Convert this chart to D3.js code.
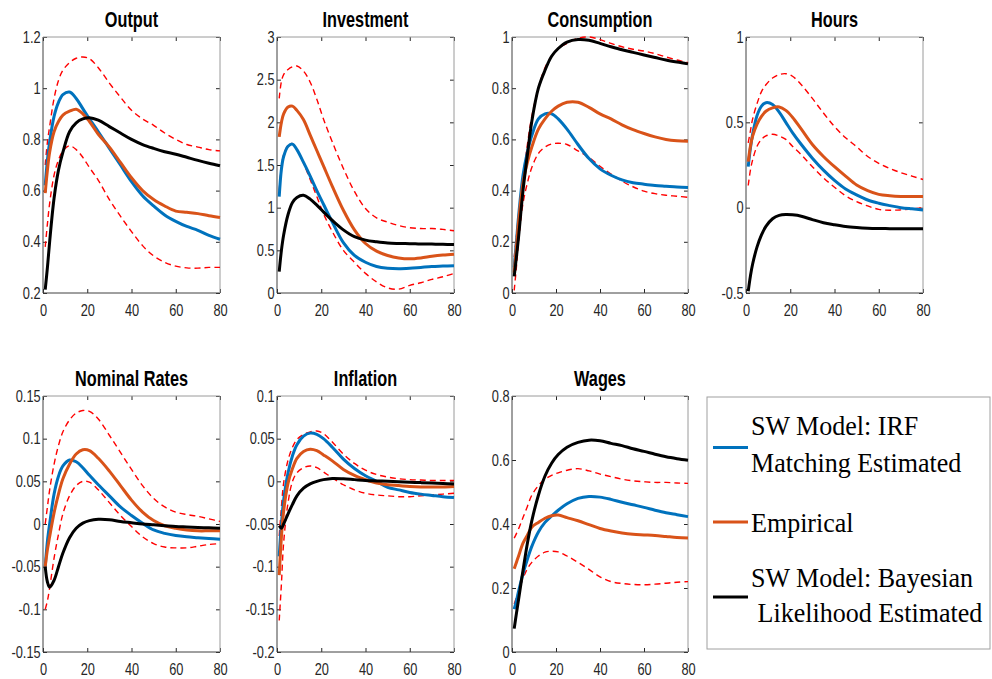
<!DOCTYPE html>
<html>
<head>
<meta charset="utf-8">
<script src="https://cdn.jsdelivr.net/npm/d3@7/dist/d3.min.js"></script>
<style>
  body { margin: 0; background: #fff; }
  .tick text { font-family: "Liberation Sans", Arial, sans-serif; font-size: 16px; fill: #262626; }
  .tick line { stroke: #262626; }
  .title { font-family: "Liberation Sans", Arial, sans-serif; font-size: 22px; font-weight: bold; fill: #000; }
  .legend-text { font-family: "Liberation Serif", "Times New Roman", serif; font-size: 28px; fill: #000; }
</style>
</head>
<body>
<div id="chart-container"></div>
<script>
var horizon = [1, 2, 3, 5, 7, 9, 12, 15, 18, 21, 25, 30, 35, 40, 45, 50, 55, 60, 65, 70, 75, 80];

var titles = ["Output", "Investment", "Consumption", "Hours", "Nominal Rates", "Inflation", "Wages"];

var yTicks = [
  [0.2, 0.4, 0.6, 0.8, 1, 1.2],
  [0, 0.5, 1, 1.5, 2, 2.5, 3],
  [0, 0.2, 0.4, 0.6, 0.8, 1],
  [-0.5, 0, 0.5, 1],
  [-0.15, -0.1, -0.05, 0, 0.05, 0.1, 0.15],
  [-0.2, -0.15, -0.1, -0.05, 0, 0.05, 0.1],
  [0, 0.2, 0.4, 0.6, 0.8]
];
var xTicks = [0, 20, 40, 60, 80];

var legendLabels = [
  ["SW Model: IRF", "Matching Estimated"],
  ["Empirical"],
  ["SW Model: Bayesian", " Likelihood Estimated"]
];

// SW model, IRF matching (blue)
var irfMatching = [
  [0.62, 0.72, 0.79, 0.89, 0.945, 0.975, 0.985, 0.96, 0.92, 0.88, 0.83, 0.765, 0.70, 0.635, 0.58, 0.54, 0.505, 0.48, 0.46, 0.445, 0.425, 0.41],
  [1.13, 1.45, 1.6, 1.72, 1.745, 1.68, 1.53, 1.37, 1.2, 1.04, 0.83, 0.59, 0.44, 0.36, 0.31, 0.29, 0.285, 0.29, 0.30, 0.31, 0.315, 0.32],
  [0.10, 0.2, 0.3, 0.46, 0.55, 0.615, 0.68, 0.70, 0.70, 0.68, 0.64, 0.58, 0.525, 0.485, 0.46, 0.442, 0.431, 0.425, 0.42, 0.417, 0.414, 0.412],
  [0.24, 0.35, 0.43, 0.54, 0.595, 0.615, 0.605, 0.56, 0.50, 0.44, 0.37, 0.29, 0.22, 0.16, 0.11, 0.075, 0.045, 0.026, 0.012, 0.0, -0.007, -0.013],
  [-0.05, -0.02, 0.0, 0.035, 0.056, 0.068, 0.075, 0.073, 0.066, 0.057, 0.046, 0.033, 0.02, 0.01, 0.001, -0.007, -0.011, -0.0135, -0.015, -0.016, -0.017, -0.018],
  [-0.088, -0.05, -0.022, 0.01, 0.03, 0.043, 0.053, 0.0565, 0.055, 0.05, 0.04, 0.026, 0.015, 0.0065, 0.0, -0.007, -0.01, -0.013, -0.015, -0.0165, -0.018, -0.019],
  [0.134, 0.16, 0.19, 0.245, 0.29, 0.33, 0.375, 0.405, 0.425, 0.443, 0.463, 0.48, 0.486, 0.484, 0.477, 0.468, 0.46, 0.452, 0.443, 0.435, 0.429, 0.423]
];

// empirical (orange)
var empirical = [
  [0.59, 0.68, 0.75, 0.83, 0.87, 0.895, 0.91, 0.918, 0.90, 0.87, 0.82, 0.77, 0.71, 0.65, 0.60, 0.565, 0.54, 0.52, 0.515, 0.51, 0.502, 0.495],
  [1.83, 2.0, 2.1, 2.18, 2.19, 2.14, 2.03, 1.85, 1.67, 1.49, 1.25, 0.97, 0.74, 0.58, 0.49, 0.44, 0.41, 0.40, 0.41, 0.43, 0.445, 0.455],
  [0.08, 0.18, 0.28, 0.43, 0.51, 0.57, 0.64, 0.68, 0.71, 0.73, 0.745, 0.745, 0.725, 0.70, 0.68, 0.657, 0.638, 0.623, 0.61, 0.60, 0.595, 0.593],
  [0.27, 0.36, 0.42, 0.49, 0.535, 0.565, 0.585, 0.59, 0.57, 0.53, 0.46, 0.37, 0.30, 0.24, 0.185, 0.133, 0.10, 0.078, 0.07, 0.066, 0.065, 0.065],
  [-0.05, -0.03, -0.015, 0.013, 0.035, 0.053, 0.07, 0.082, 0.087, 0.086, 0.077, 0.062, 0.045, 0.028, 0.014, 0.004, -0.002, -0.005, -0.007, -0.008, -0.008, -0.008],
  [-0.11, -0.065, -0.035, -0.002, 0.015, 0.027, 0.035, 0.0377, 0.036, 0.031, 0.024, 0.014, 0.007, 0.002, -0.002, -0.004, -0.005, -0.006, -0.0065, -0.0065, -0.0065, -0.006],
  [0.26, 0.28, 0.30, 0.34, 0.365, 0.39, 0.405, 0.418, 0.426, 0.428, 0.42, 0.41, 0.398, 0.386, 0.378, 0.372, 0.368, 0.366, 0.364, 0.361, 0.358, 0.356]
];

// SW model, Bayesian likelihood (black)
var bayesian = [
  [0.213, 0.30, 0.40, 0.57, 0.68, 0.75, 0.83, 0.865, 0.88, 0.885, 0.875, 0.85, 0.825, 0.80, 0.78, 0.765, 0.752, 0.742, 0.73, 0.718, 0.707, 0.697],
  [0.25, 0.5, 0.68, 0.92, 1.06, 1.12, 1.145, 1.1, 1.03, 0.95, 0.85, 0.74, 0.66, 0.62, 0.60, 0.585, 0.58, 0.578, 0.575, 0.573, 0.57, 0.567],
  [0.065, 0.14, 0.22, 0.40, 0.54, 0.67, 0.80, 0.87, 0.925, 0.955, 0.98, 0.99, 0.987, 0.975, 0.962, 0.95, 0.94, 0.93, 0.92, 0.91, 0.902, 0.895],
  [-0.49, -0.40, -0.33, -0.23, -0.16, -0.11, -0.065, -0.045, -0.04, -0.042, -0.05, -0.07, -0.088, -0.10, -0.11, -0.116, -0.12, -0.122, -0.123, -0.123, -0.123, -0.123],
  [-0.05, -0.068, -0.074, -0.066, -0.05, -0.034, -0.016, -0.005, 0.001, 0.004, 0.0055, 0.005, 0.003, 0.0015, 0.0, -0.001, -0.002, -0.003, -0.0035, -0.004, -0.0045, -0.005],
  [-0.052, -0.055, -0.05, -0.038, -0.027, -0.017, -0.008, -0.003, 0.0, 0.002, 0.0034, 0.003, 0.002, 0.001, 0.0005, 0.0, -0.0005, -0.001, -0.0015, -0.002, -0.0025, -0.003],
  [0.073, 0.12, 0.165, 0.255, 0.34, 0.41, 0.49, 0.55, 0.59, 0.617, 0.64, 0.655, 0.662, 0.66, 0.652, 0.645, 0.635, 0.627, 0.618, 0.61, 0.604, 0.599]
];

// empirical confidence bands (red dashed)
var bandUpper = [
  [0.70, 0.79, 0.85, 0.96, 1.03, 1.07, 1.10, 1.117, 1.122, 1.115, 1.08, 1.02, 0.965, 0.914, 0.88, 0.855, 0.825, 0.80, 0.78, 0.77, 0.76, 0.755],
  [2.28, 2.48, 2.56, 2.62, 2.65, 2.66, 2.6, 2.47, 2.27, 2.04, 1.77, 1.46, 1.19, 0.99, 0.88, 0.83, 0.79, 0.765, 0.755, 0.755, 0.745, 0.73],
  [0.14, 0.22, 0.3, 0.45, 0.58, 0.69, 0.80, 0.88, 0.925, 0.955, 0.975, 0.995, 1.0, 0.99, 0.975, 0.962, 0.952, 0.945, 0.935, 0.922, 0.91, 0.90],
  [0.38, 0.45, 0.52, 0.61, 0.68, 0.72, 0.76, 0.78, 0.785, 0.77, 0.72, 0.64, 0.555, 0.475, 0.41, 0.357, 0.30, 0.26, 0.23, 0.205, 0.185, 0.165],
  [0.0, 0.02, 0.04, 0.07, 0.092, 0.108, 0.122, 0.13, 0.133, 0.132, 0.123, 0.104, 0.084, 0.064, 0.045, 0.03, 0.02, 0.014, 0.011, 0.009, 0.006, 0.003],
  [-0.064, -0.03, -0.002, 0.025, 0.04, 0.049, 0.055, 0.058, 0.059, 0.056, 0.046, 0.032, 0.021, 0.013, 0.008, 0.005, 0.003, 0.002, 0.0015, 0.001, 0.001, 0.001],
  [0.356, 0.37, 0.385, 0.42, 0.455, 0.49, 0.52, 0.54, 0.552, 0.56, 0.568, 0.573, 0.566, 0.556, 0.548, 0.54, 0.535, 0.532, 0.53, 0.53, 0.528, 0.527]
];
var bandLower = [
  [0.38, 0.47, 0.55, 0.66, 0.72, 0.755, 0.775, 0.76, 0.73, 0.69, 0.64, 0.565, 0.50, 0.44, 0.385, 0.345, 0.32, 0.305, 0.298, 0.297, 0.30, 0.30],
  [1.2, 1.48, 1.62, 1.73, 1.75, 1.68, 1.52, 1.33, 1.13, 0.93, 0.72, 0.50, 0.36, 0.23, 0.13, 0.06, 0.045, 0.09, 0.12, 0.16, 0.19, 0.23],
  [0.01, 0.1, 0.2, 0.35, 0.43, 0.49, 0.545, 0.57, 0.582, 0.585, 0.58, 0.555, 0.53, 0.495, 0.465, 0.437, 0.415, 0.398, 0.388, 0.382, 0.378, 0.374],
  [0.13, 0.22, 0.28, 0.36, 0.40, 0.42, 0.43, 0.42, 0.40, 0.36, 0.31, 0.24, 0.175, 0.12, 0.07, 0.035, 0.01, -0.01, -0.015, -0.013, -0.008, 0.0],
  [-0.1, -0.09, -0.075, -0.04, -0.012, 0.012, 0.033, 0.045, 0.05, 0.049, 0.04, 0.025, 0.01, -0.003, -0.015, -0.023, -0.027, -0.028, -0.028, -0.026, -0.024, -0.023],
  [-0.163, -0.12, -0.072, -0.025, 0.0, 0.01, 0.016, 0.018, 0.016, 0.011, 0.004, -0.004, -0.01, -0.014, -0.016, -0.017, -0.018, -0.018, -0.017, -0.016, -0.015, -0.014],
  [0.15, 0.17, 0.19, 0.23, 0.26, 0.28, 0.30, 0.312, 0.315, 0.313, 0.30, 0.28, 0.258, 0.235, 0.22, 0.214, 0.211, 0.21, 0.212, 0.215, 0.218, 0.22]
];

var colors = { irf: "#0072BD", emp: "#D95319", bayes: "#000000", band: "#FF0000" };

// plot boxes (left, top, right, bottom) in page pixels
var boxes = [
  [43, 37, 220, 293], [277, 37, 454, 293], [512, 37, 688, 293], [746, 37, 923, 293],
  [43, 396, 220, 652], [277, 396, 454, 652], [512, 396, 688, 652]
];

var width = 992, height = 679;

var svg = d3.select("#chart-container")
  .append("svg")
    .attr("width", width)
    .attr("height", height);

var fmt = function(d) { return String(+d.toFixed(2)); };

boxes.forEach(function(b, i) {
  var w = b[2] - b[0], h = b[3] - b[1];
  var yt = yTicks[i];

  var x = d3.scaleLinear().domain([0, 80]).range([0, w]);
  var y = d3.scaleLinear().domain([yt[0], yt[yt.length - 1]]).range([h, 0]);

  var g = svg.append("g")
      .attr("transform", "translate(" + b[0] + "," + b[1] + ")");

  // inward ticks on all four sides, labels on left and bottom
  var left = g.append("g").call(d3.axisLeft(y).tickValues(yt).tickFormat(fmt).tickSize(-4).tickSizeOuter(0).tickPadding(3));
  var bottom = g.append("g").attr("transform", "translate(0," + h + ")")
      .call(d3.axisBottom(x).tickValues(xTicks).tickFormat(d3.format("d")).tickSize(-4).tickSizeOuter(0).tickPadding(12));
  g.append("g").call(d3.axisTop(x).tickValues(xTicks).tickFormat("").tickSize(-4).tickSizeOuter(0));
  g.append("g").attr("transform", "translate(" + w + ",0)")
      .call(d3.axisRight(y).tickValues(yt).tickFormat("").tickSize(-4).tickSizeOuter(0));

  g.selectAll(".domain").remove();
  left.selectAll("text").attr("transform", "scale(0.8,1)");
  bottom.selectAll("text").attr("transform", "scale(0.8,1)");

  // box
  g.append("line").attr("x1", 0).attr("x2", 0).attr("y1", 0).attr("y2", h).attr("stroke", "#404040");
  g.append("line").attr("x1", 0).attr("x2", w).attr("y1", h).attr("y2", h).attr("stroke", "#404040");
  g.append("line").attr("x1", 0).attr("x2", w).attr("y1", 0).attr("y2", 0).attr("stroke", "#9a9a9a");
  g.append("line").attr("x1", w).attr("x2", w).attr("y1", 0).attr("y2", h).attr("stroke", "#9a9a9a");

  var line = d3.line()
      .x(function(d, j) { return x(horizon[j]); })
      .y(function(d) { return y(d); })
      .curve(d3.curveCatmullRom.alpha(0.5));

  [bandUpper[i], bandLower[i]].forEach(function(s) {
    g.append("path")
        .attr("d", line(s))
        .attr("fill", "none")
        .attr("stroke", colors.band)
        .attr("stroke-width", 1.4)
        .attr("stroke-dasharray", "6,4");
  });

  [[irfMatching[i], colors.irf], [empirical[i], colors.emp], [bayesian[i], colors.bayes]].forEach(function(s) {
    g.append("path")
        .attr("d", line(s[0]))
        .attr("fill", "none")
        .attr("stroke", s[1])
        .attr("stroke-width", 3)
        .attr("stroke-linejoin", "round");
  });

  svg.append("text")
      .attr("class", "title")
      .attr("text-anchor", "middle")
      .attr("transform", "translate(" + (b[0] + w / 2) + "," + (b[1] - 10) + ") scale(0.74,1)")
      .text(titles[i]);
});

// legend
var lg = svg.append("g").attr("class", "legend");
lg.append("rect")
    .attr("x", 707).attr("y", 397)
    .attr("width", 283).attr("height", 252)
    .attr("fill", "#fff")
    .attr("stroke", "#a0a0a0");

var legendColors = [colors.irf, colors.emp, colors.bayes];
var legendLineY = [447.5, 522, 597];
var legendTextY = [[435, 471.5], [532], [587, 622]];

legendLabels.forEach(function(lines, k) {
  lg.append("line")
      .attr("x1", 713).attr("x2", 748)
      .attr("y1", legendLineY[k]).attr("y2", legendLineY[k])
      .attr("stroke", legendColors[k])
      .attr("stroke-width", 3);
  lines.forEach(function(t, m) {
    lg.append("text")
        .attr("class", "legend-text")
        .attr("xml:space", "preserve")
        .attr("transform", "translate(751," + legendTextY[k][m] + ") scale(0.93,1)")
        .text(t);
  });
});
</script>
</body>
</html>
